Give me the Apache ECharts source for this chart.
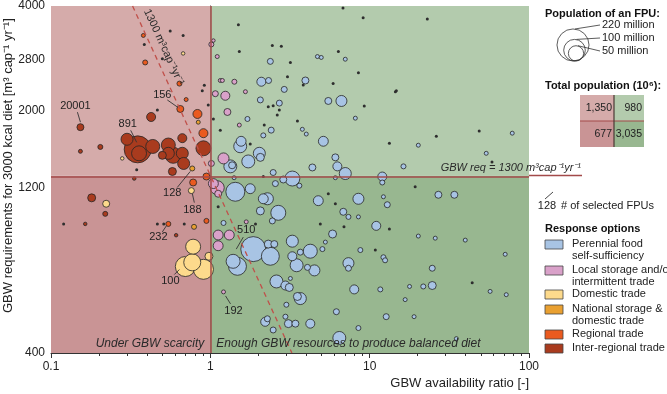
<!DOCTYPE html>
<html lang="en">
  <head>
    <meta charset="UTF-8" />
    <title>GBW availability vs requirements</title>
    <script src="https://cdn.jsdelivr.net/npm/echarts@6/dist/echarts.min.js"></script>
    <style>
      * {
        margin: 0;
        padding: 0;
      }
      body {
        background: #fff;
      }
    </style>
  </head>
  <body>
    <div id="charts" style="width: 667px; height: 394px"></div>
    <script>
      // each point: [GBW availability ratio, GBW requirement (m3/cap/yr), population (million)]
      var perennial = [
        [2.38, 2770, 7.7], [2.09, 2420, 17.4], [2.32, 2440, 7.7], [2.91, 2300, 7.7], [3.95, 2440, 10.5],
        [2.06, 2145, 7.7], [2.71, 2100, 7.7], [5.5, 2130, 10.5], [6.65, 2130, 26], [2.41, 1755, 7.7],
        [1.71, 1890, 5.4], [3.78, 1765, 3.4], [4.0, 1710, 3.4], [2.15, 1695, 5.4], [5.12, 1630, 21],
        [6.09, 1465, 10.5], [6.27, 1380, 17.4], [7.03, 1316, 31], [12.0, 1290, 17.4], [12.0, 1240, 5.4],
        [4.37, 1370, 10.5], [1.54, 1577, 36], [1.56, 1630, 21], [2.03, 1505, 31], [2.06, 1465, 13.7],
        [1.73, 1426, 36], [1.335, 1380, 36], [1.37, 1390, 10.5], [3.27, 1273, 48], [2.87, 1265, 10.5],
        [2.48, 1325, 7.7], [1.41, 1280, 3.4], [1.435, 1166, 77], [1.78, 1190, 21], [2.15, 1113, 21],
        [2.28, 1113, 31], [2.56, 1231, 7.7], [3.62, 1214, 5.4], [4.76, 1099, 21], [8.5, 1113, 26],
        [6.09, 1280, 3.4], [8.13, 1900, 3.4], [4.7, 2860, 3.4], [4.97, 2843, 3.4], [7.03, 2810, 3.4],
        [78.5, 1720, 3.4], [53.9, 1505, 3.4], [20.2, 1588, 3.4], [16.3, 1380, 5.4], [27, 1143, 10.5],
        [34, 1143, 10.5], [12.9, 1070, 7.7], [12.2, 1128, 3.4], [20.2, 869, 3.4], [25.8, 857, 3.4],
        [39.8, 846, 3.4], [70.9, 770, 3.4], [12.2, 755, 5.4], [12.5, 740, 5.4], [24.7, 702, 7.7],
        [24.7, 626, 13.7], [21.7, 622, 5.4], [17.8, 622, 3.4], [57, 602, 3.4], [72, 589, 3.4],
        [16.7, 570, 3.4], [12.7, 509, 7.7], [19, 509, 3.4], [11.66, 610, 5.4], [35, 440, 3.4],
        [2.67, 1014, 48], [2.06, 1027, 13.7], [2.45, 961, 7.7], [6.83, 1021, 10.5], [7.36, 987, 5.4],
        [8.5, 987, 3.4], [11.0, 930, 17.4], [5.85, 881, 13.7], [5.27, 835, 3.4], [1.21, 948, 5.4],
        [1.86, 797, 134], [2.38, 760, 69], [2.31, 824, 13.7], [2.52, 824, 10.5], [1.48, 711, 69],
        [1.39, 735, 42], [3.27, 840, 31], [4.24, 786, 42], [3.67, 781, 7.7], [3.27, 760, 17.4],
        [3.48, 716, 36], [4.5, 692, 26], [4.07, 706, 7.7], [5.05, 797, 5.4], [7.36, 726, 26],
        [7.36, 702, 7.7], [8.74, 792, 5.4], [2.6, 643, 36], [2.96, 626, 17.4], [3.13, 618, 13.7],
        [3.67, 574, 31], [3.52, 582, 13.7], [3.0, 551, 5.4], [3.18, 656, 3.4], [8.0, 610, 17.4],
        [6.18, 526, 7.7], [4.24, 486, 17.4], [3.09, 486, 13.7], [3.42, 486, 10.5], [2.21, 492, 17.4],
        [2.28, 502, 7.7], [2.48, 466, 7.7], [2.96, 509, 5.4], [6.45, 442, 36], [8.5, 472, 5.4]
      ];
      var localStorage_ = [
        [1.015, 3100, 5.4], [1.045, 3180, 2], [1.105, 2860, 3.4], [1.155, 2440, 3.4], [1.19, 2440, 3.4],
        [1.415, 2420, 5.4], [1.075, 2235, 7.7], [1.242, 2205, 17.4], [1.66, 2265, 3.4], [1.28, 1980, 10.5],
        [1.52, 1815, 3.4], [1.015, 1407, 7.7], [1.21, 1455, 26], [1.105, 1198, 42], [1.045, 1231, 21],
        [1.12, 1151, 10.5], [1.12, 875, 21], [1.315, 875, 21], [1.12, 815, 21], [1.21, 600, 3.4],
        [1.68, 955, 3.4]
      ];
      var domestic = [
        [0.76, 1175, 7.7], [0.222, 1077, 10.5], [0.78, 810, 48], [0.77, 730, 62], [0.697, 710, 86],
        [0.905, 697, 86], [0.98, 760, 13.7], [0.675, 2920, 2], [0.28, 1455, 2]
      ];
      var national = [[0.77, 1361, 5.4], [0.84, 1850, 3.4], [0.79, 924, 5.4]];
      var regional = [
        [0.38, 3290, 3.4], [0.39, 2750, 5.4], [0.64, 2390, 5.4], [0.705, 2150, 3.4], [0.648, 2020, 10.5],
        [0.83, 1954, 17.4], [0.905, 1720, 17.4], [0.78, 1240, 10.5], [0.945, 1290, 10.5], [0.945, 961, 5.4],
        [0.545, 942, 5.4]
      ];
      var interRegional = [
        [0.153, 1790, 10.5], [0.153, 1525, 3.4], [0.204, 1570, 5.4], [0.425, 1915, 17.4], [0.3, 1652, 31],
        [0.35, 1545, 156], [0.357, 1505, 48], [0.435, 1575, 42], [0.545, 1590, 42], [0.545, 1505, 31],
        [0.585, 1485, 55], [0.667, 1505, 31], [0.68, 1407, 31], [0.5, 1485, 13.7], [0.667, 1664, 17.4],
        [0.905, 1556, 48], [0.578, 1334, 13.7], [0.18, 1120, 13.7], [0.219, 1007, 5.4], [0.164, 942, 2],
        [0.61, 874, 2], [0.333, 1273, 2]
      ];
      // FPUs without a selected response option (small dots)
      var otherFpus = [
        [0.56, 3390], [0.675, 3290], [0.385, 3100], [0.5, 2820], [0.89, 2280], [0.917, 2365], [0.97, 2075],
        [0.465, 2005], [1.045, 1890], [0.345, 1350], [1.5, 3530], [6.8, 3950], [9.1, 3700], [1.52, 2960],
        [2.45, 3080], [2.79, 3060], [3.18, 2750], [6.36, 2960], [8.5, 2570], [3.05, 2500], [5.9, 2390],
        [14.7, 2280], [3.83, 2370], [9.25, 2060], [3.52, 1865], [2.31, 2050], [2.48, 2065], [2.71, 2005],
        [2.63, 1940], [2.18, 1815], [1.155, 1755], [1.78, 1600], [13.3, 1610], [23, 3670], [14.5, 2265],
        [26.2, 1685], [48.7, 1745], [58.6, 1420], [19.3, 1205], [0.12, 942], [0.465, 942], [0.51, 942],
        [0.686, 942], [6.09, 1077], [6.9, 924], [10.85, 792], [13.3, 911], [4.9, 942], [44, 638],
        [1.12, 1055], [1.92, 942], [5.5, 1151], [2.15, 1290]
      ];

      var xMajorTicks = [0.1, 1, 10, 100];
      var xMinorTicks = [0.2, 0.3, 0.4, 0.5, 0.6, 0.7, 0.8, 0.9, 2, 3, 4, 5, 6, 7, 8, 9, 20, 30, 40, 50, 60, 70, 80, 90];
      var yLabels = [400, 1200, 2000, 2800, 4000];
      var yTicks = [400, 800, 1200, 1600, 2000, 2400, 2800, 3200, 3600, 4000];
      var reqThreshold = 1300; // m3/cap/yr
      var popLegend = [220, 100, 50];
      var totalPop = { scarceHigh: "1,350", enoughHigh: "980", scarceLow: "677", enoughLow: "3,035" };
      var annotations = [
        { label: "20001", point: [0.153, 1790], text: [-5, -21], line: [-3, -15, 0, -5] },
        { label: "891", point: [0.35, 1545], text: [-10, -25], line: [-7, -19, -1, -7] },
        { label: "156", point: [0.648, 2020], text: [-18, -14], line: [-13, -9, -3, -2] },
        { label: "128", point: [0.77, 1361], text: [-20, 25], line: [-15, 19, -2, 3] },
        { label: "188", point: [0.76, 1175], text: [1, 19], line: [3, 12, 1, 3] },
        { label: "232", point: [0.545, 942], text: [-10, 13], line: [-6, 8, -2, 2] },
        { label: "100", point: [0.697, 710], text: [-15, 14], line: [-11, 8, -6, 3] },
        { label: "510", point: [1.86, 797], text: [-7, -19], line: [-10, -12, -17, 0] },
        { label: "192", point: [1.21, 600], text: [10, 19], line: [2, 4, 7, 12] }
      ];

      var colors = {
        perennial: "#a8c4e4",
        local: "#d9a1c9",
        domestic: "#fdda8c",
        national: "#e9a031",
        regional: "#ea5a1f",
        interRegional: "#a93b1e"
      };
      var FONT = '"Liberation Sans", Arial, sans-serif';
      var SIZE_K = 2.16; // px diameter per sqrt(million people)
      var L = Math.log10;

      function toLog(p) {
        return [L(p[0]), L(p[1]), p[2]];
      }
      function bubbleSeries(name, data, color) {
        return {
          name: name,
          type: "scatter",
          z: 3,
          silent: true,
          data: data
            .slice()
            .sort(function (a, b) {
              return b[2] - a[2];
            })
            .map(toLog),
          symbolSize: function (v) {
            return Math.max(3.5, SIZE_K * Math.sqrt(v[2]));
          },
          itemStyle: { color: color, borderColor: "#262626", borderWidth: 0.8, opacity: 1 },
          emphasis: { disabled: true }
        };
      }

      var yLo = L(400),
        yHi = L(4000),
        yReq = L(reqThreshold);

      var myEcharts = echarts.init(document.getElementById("charts"));
      var options = {
        animation: false,
        textStyle: { fontFamily: FONT },
        grid: { left: 51, right: 138, top: 4, bottom: 41 },
        xAxis: [
          {
            type: "value",
            min: -1,
            max: 2,
            position: "bottom",
            splitLine: { show: false },
            axisLine: { lineStyle: { color: "#333", width: 1 } },
            axisTick: { customValues: xMajorTicks.map(L), length: 5, lineStyle: { color: "#333" } },
            axisLabel: {
              customValues: xMajorTicks.map(L),
              formatter: function (v) {
                return String(+Math.pow(10, v).toPrecision(2));
              },
              color: "#222",
              fontSize: 12,
              margin: 8
            }
          },
          {
            type: "value",
            min: -1,
            max: 2,
            position: "bottom",
            splitLine: { show: false },
            axisLine: { show: false },
            axisTick: { customValues: xMinorTicks.map(L), length: 3, lineStyle: { color: "#333" } },
            axisLabel: { show: false }
          }
        ],
        yAxis: [
          {
            type: "value",
            min: yLo,
            max: yHi,
            position: "left",
            splitLine: { show: false },
            axisLine: { show: true, lineStyle: { color: "#333", width: 1 } },
            axisTick: { show: true, customValues: yLabels.map(L), length: 5, lineStyle: { color: "#333" } },
            axisLabel: {
              customValues: yLabels.map(L),
              formatter: function (v) {
                return String(Math.round(Math.pow(10, v)));
              },
              color: "#222",
              fontSize: 12,
              margin: 6
            }
          },
          {
            type: "value",
            min: yLo,
            max: yHi,
            position: "left",
            splitLine: { show: false },
            axisLine: { show: false },
            axisTick: { show: true, customValues: yTicks.map(L), length: 3, lineStyle: { color: "#333" } },
            axisLabel: { show: false }
          }
        ],
        series: [
          {
            name: "regions",
            type: "scatter",
            data: [],
            z: 1,
            silent: true,
            markArea: {
              silent: true,
              data: [
                [{ xAxis: -1, yAxis: yReq, itemStyle: { color: "#d5abaa" } }, { xAxis: 0, yAxis: yHi }],
                [{ xAxis: -1, yAxis: yLo, itemStyle: { color: "#c99495" } }, { xAxis: 0, yAxis: yReq }],
                [{ xAxis: 0, yAxis: yReq, itemStyle: { color: "#b3cbad" } }, { xAxis: 2, yAxis: yHi }],
                [{ xAxis: 0, yAxis: yLo, itemStyle: { color: "#98b790" } }, { xAxis: 2, yAxis: yReq }]
              ]
            },
            markLine: {
              silent: true,
              symbol: "none",
              label: { show: false },
              lineStyle: { color: "#a34a4a", width: 1.5, type: "solid" },
              data: [{ xAxis: 0 }, { yAxis: yReq }]
            }
          },
          bubbleSeries("Perennial food self-sufficiency", perennial, colors.perennial),
          bubbleSeries("Local storage and/or intermittent trade", localStorage_, colors.local),
          bubbleSeries("Domestic trade", domestic, colors.domestic),
          bubbleSeries("National storage & domestic trade", national, colors.national),
          bubbleSeries("Regional trade", regional, colors.regional),
          bubbleSeries("Inter-regional trade", interRegional, colors.interRegional),
          {
            name: "other",
            type: "scatter",
            z: 3,
            silent: true,
            data: otherFpus.map(toLog),
            symbolSize: 3,
            itemStyle: { color: "#2e2e2e", opacity: 1 }
          },
          {
            name: "per-capita line",
            type: "scatter",
            data: [],
            z: 4,
            silent: true,
            markLine: {
              silent: true,
              symbol: "none",
              label: { show: false },
              lineStyle: { color: "#c0504a", width: 1.3, type: [5, 4] },
              data: [[{ coord: [L(reqThreshold / 4000), yHi] }, { coord: [L(reqThreshold / 400), yLo] }]]
            }
          }
        ]
      };
      myEcharts.setOption(options);

      // ---- annotations and legend (graphic) ----
      function px(x, y) {
        return myEcharts.convertToPixel({ xAxisIndex: 0, yAxisIndex: 0 }, [L(x), L(y)]);
      }
      function txt(x, y, s, font, align, valign, fill, extra) {
        var el = {
          type: "text",
          x: x,
          y: y,
          z: 100,
          silent: true,
          style: {
            text: s,
            font: font,
            fill: fill || "#222",
            textAlign: align || "left",
            textVerticalAlign: valign || "middle"
          }
        };
        if (extra) Object.assign(el, extra);
        return el;
      }
      function seg(x1, y1, x2, y2, color, w) {
        return {
          type: "line",
          z: 100,
          silent: true,
          shape: { x1: x1, y1: y1, x2: x2, y2: y2 },
          style: { stroke: color || "#333", lineWidth: w || 0.8 }
        };
      }

      var g = [];
      var plotRight = px(100, 400)[0];
      var plotBottom = px(1, 400)[1];
      var yReqPx = px(1, reqThreshold)[1];
      var xOnePx = px(1, 400)[0];

      // axis titles
      g.push(txt(plotRight, 383, "GBW availability ratio [-]", "13px " + FONT, "right", "middle", "#222"));
      g.push(
        txt(8, 313, "GBW requirements for 3000 kcal diet [m³ cap⁻¹ yr⁻¹]", "13px " + FONT, "left", "middle", "#222", {
          rotation: Math.PI / 2
        })
      );

      // quadrant captions
      g.push(txt(xOnePx - 6, plotBottom - 9, "Under GBW scarcity", "italic 12px " + FONT, "right", "middle", "#2a2a2a"));
      g.push(
        txt(xOnePx + 6, plotBottom - 9, "Enough GBW resources to produce balanced diet", "italic 12px " + FONT, "left", "middle", "#2a2a2a")
      );

      // threshold line extension and caption
      g.push(seg(plotRight, yReqPx, 582, yReqPx, "#a34a4a", 1.5));
      g.push(txt(581, yReqPx - 7, "GBW req = 1300 m³cap⁻¹yr⁻¹", "italic 11px " + FONT, "right", "middle", "#2a2a2a"));

      // per-capita line caption
      var topPt = px(reqThreshold / 4000, 4000);
      var ang = Math.atan2(px(1, 400)[1] - px(1, 4000)[1], px(10, 400)[0] - px(1, 400)[0]);
      g.push(
        txt(topPt[0] + 9, topPt[1] + 6, "1300 m³cap⁻¹yr⁻¹", "11px " + FONT, "left", "bottom", "#2a2a2a", {
          rotation: -ang
        })
      );

      // annotations
      annotations.forEach(function (a) {
        var p = px(a.point[0], a.point[1]);
        g.push(txt(p[0] + a.text[0], p[1] + a.text[1], a.label, "11px " + FONT, "center", "middle", "#222"));
        g.push(seg(p[0] + a.line[0], p[1] + a.line[1], p[0] + a.line[2], p[1] + a.line[3], "#333", 0.9));
      });

      // population legend
      var lx = 545;
      g.push(txt(lx, 14, "Population of an FPU:", "bold 11px " + FONT, "left", "middle", "#111"));
      var circBottom = 61;
      var textYs = [25, 38, 51];
      popLegend.forEach(function (pop, i) {
        var r = (SIZE_K * Math.sqrt(pop)) / 2;
        var cx = 573 + i * 1.5;
        g.push({
          type: "circle",
          z: 100,
          silent: true,
          shape: { cx: cx, cy: circBottom - r, r: r },
          style: { fill: "none", stroke: "#333", lineWidth: 0.8 }
        });
        g.push(seg(cx + 2, circBottom - 2 * r, 600, textYs[i], "#333", 0.8));
        g.push(txt(602, textYs[i], pop + " million", "11px " + FONT, "left", "middle", "#222"));
      });

      // total population table
      g.push(txt(lx, 86, "Total population (10⁶):", "bold 11px " + FONT, "left", "middle", "#111"));
      var tl = 580,
        tm = 614,
        tr = 644,
        tt = 95,
        tmid = 121,
        tb = 147;
      function cell(x, y, w, h, color) {
        return { type: "rect", z: 99, silent: true, shape: { x: x, y: y, width: w, height: h }, style: { fill: color } };
      }
      g.push(cell(tl, tt, tm - tl, tmid - tt, "#d5abaa"));
      g.push(cell(tm, tt, tr - tm, tmid - tt, "#b3cbad"));
      g.push(cell(tl, tmid, tm - tl, tb - tmid, "#c99495"));
      g.push(cell(tm, tmid, tr - tm, tb - tmid, "#98b790"));
      g.push(seg(tl, tmid, tr, tmid, "#a34a4a", 1.2));
      g.push(seg(tm, tt, tm, tb, "#4a3a35", 1.2));
      var tf = "10.5px " + FONT;
      g.push(txt(tm - 2, (tt + tmid) / 2, totalPop.scarceHigh, tf, "right", "middle", "#222"));
      g.push(txt(tr - 2, (tt + tmid) / 2, totalPop.enoughHigh, tf, "right", "middle", "#222"));
      g.push(txt(tm - 2, (tmid + tb) / 2, totalPop.scarceLow, tf, "right", "middle", "#222"));
      g.push(txt(tr - 2, (tmid + tb) / 2, totalPop.enoughLow, tf, "right", "middle", "#222"));

      // # of selected FPUs key
      g.push(seg(545, 199, 553, 192, "#333", 0.9));
      g.push(txt(547, 206, "128", "11px " + FONT, "center", "middle", "#222"));
      g.push(txt(561, 206, "# of selected FPUs", "11px " + FONT, "left", "middle", "#222"));

      // response options legend
      g.push(txt(lx, 229, "Response options", "bold 11px " + FONT, "left", "middle", "#111"));
      var legendItems = [
        { color: colors.perennial, lines: ["Perennial food", "self-sufficiency"], y: 244 },
        { color: colors.local, lines: ["Local storage and/or", "intermittent trade"], y: 270 },
        { color: colors.domestic, lines: ["Domestic trade"], y: 294 },
        { color: colors.national, lines: ["National storage &", "domestic trade"], y: 309 },
        { color: colors.regional, lines: ["Regional trade"], y: 334 },
        { color: colors.interRegional, lines: ["Inter-regional trade"], y: 348 }
      ];
      legendItems.forEach(function (it) {
        g.push({
          type: "rect",
          z: 100,
          silent: true,
          shape: { x: 545, y: it.y - 4, width: 18, height: 9 },
          style: { fill: it.color, stroke: "#444", lineWidth: 0.8 }
        });
        it.lines.forEach(function (s, k) {
          g.push(txt(572, it.y + k * 12, s, "11px " + FONT, "left", "middle", "#222"));
        });
      });

      myEcharts.setOption({ graphic: { elements: g } });
    </script>
  </body>
</html>
